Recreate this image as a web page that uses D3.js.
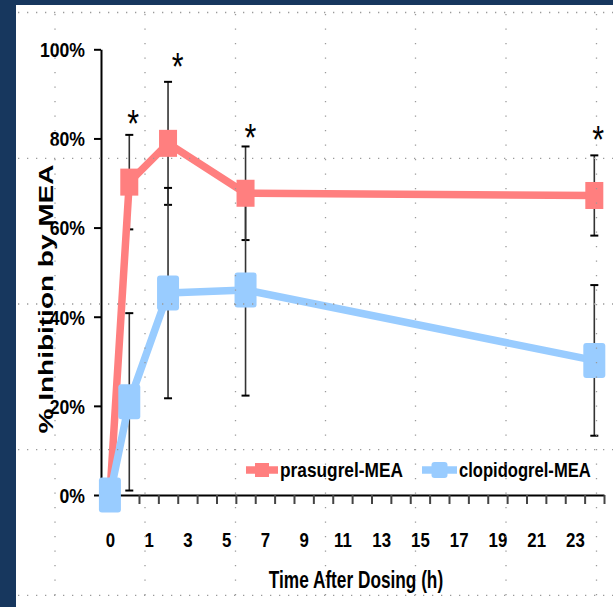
<!DOCTYPE html>
<html>
<head>
<meta charset="utf-8">
<script src="https://cdn.jsdelivr.net/npm/d3@7"></script>
<style>
  body { margin: 0; background: #17375e; }
  svg { display: block; }
  text { font-family: "Liberation Sans", Arial, sans-serif; font-weight: bold; fill: #000; }
</style>
</head>
<body>
<svg id="drawing_region"></svg>
<script>
// position of each sample on the time axis (the axis labels are offset as in the original)
const timePos = [-1, 0, 2, 6, 24];
const prasugrel = [0, 70.2, 78.9, 67.7, 67.2];
const prasugrelErr = [0, 10.6, 13.8, 10.5, 9.0];
const clopidogrel = [0, 20.9, 45.3, 46.0, 30.2];
const clopidogrelErr = [0, 19.9, 23.6, 23.7, 16.9];

const xLabelPos = [-1, 1, 3, 5, 7, 9, 11, 13, 15, 17, 19, 21, 23];
const xLabels = ["0", "1", "3", "5", "7", "9", "11", "13", "15", "17", "19", "21", "23"];
const xTickPos = d3.range(0.5, 24.6, 1);
const yTicks = [0, 20, 40, 60, 80, 100];

// significance marks
const starPos = [0.2, 2.5, 6.25, 24.2];
const starVal = [85.0, 98.0, 81.9, 81.5];

const seriesNames = ["prasugrel-MEA", "clopidogrel-MEA"];
const seriesColors = ["#ff7f7f", "#99ccff"];

const W = 613, H = 607;
const svg = d3.select('#drawing_region').attr('width', W).attr('height', H);

// white slide panel
svg.append('rect').attr('x', 16).attr('y', 5).attr('width', W - 16).attr('height', H - 5).attr('fill', '#fff');

const xscale = d3.scaleLinear().domain([-1.46, 24.5]).range([101, 604]);
const yscale = d3.scaleLinear().domain([0, 100]).range([495, 49.3]);

// y axis
const yaxis = d3.axisLeft(yscale)
    .tickValues(yTicks)
    .tickFormat(d => d + '%')
    .tickSize(7)
    .tickSizeOuter(0);
const yg = svg.append('g').attr('transform', `translate(101,0)`).call(yaxis);
yg.select('.domain').attr('stroke', '#000').attr('stroke-width', 2);
yg.selectAll('.tick line').attr('stroke', '#000').attr('stroke-width', 2);
yg.selectAll('.tick text')
    .attr('x', 0).attr('dy', '0.35em')
    .attr('transform', 'translate(-16,0) scale(0.84,1)')
    .style('font-size', '21px');

// x axis: tick marks
const xaxis = d3.axisBottom(xscale)
    .tickValues(xTickPos)
    .tickFormat('')
    .tickSize(9)
    .tickSizeOuter(0);
const xg = svg.append('g').attr('transform', `translate(0,495)`).call(xaxis);
xg.select('.domain').attr('stroke', '#000').attr('stroke-width', 2);
xg.selectAll('.tick line').attr('stroke', '#444').attr('stroke-width', 2);

// x axis: labels
const xlab = d3.axisBottom(xscale)
    .tickValues(xLabelPos)
    .tickFormat((d, i) => xLabels[i])
    .tickSize(0);
const xl = svg.append('g').attr('transform', `translate(0,495)`).call(xlab);
xl.select('.domain').remove();
xl.selectAll('.tick text')
    .attr('y', 0).attr('dy', '0.35em')
    .attr('transform', 'translate(0,45) scale(0.8,1)')
    .style('font-size', '21px');

svg.selectAll('.tick text').attr('fill', '#000').attr('font-family', null);

// titles
svg.append('text')
    .attr('transform', 'translate(356,580) scale(0.75,1)')
    .attr('text-anchor', 'middle').attr('dy', '0.35em')
    .style('font-size', '23px')
    .text('Time After Dosing (h)');

svg.append('text')
    .attr('transform', 'translate(45.5,299) scale(0.75,1) rotate(-90)')
    .attr('text-anchor', 'middle').attr('dy', '0.35em')
    .style('font-size', '28px')
    .text('% Inhibition by MEA');

const series = [
    { name: seriesNames[0], color: seriesColors[0], vals: prasugrel, err: prasugrelErr, mw: 18, mh: 27, r: 0 },
    { name: seriesNames[1], color: seriesColors[1], vals: clopidogrel, err: clopidogrelErr, mw: 22, mh: 35, r: 3 }
];

// error bars
series.forEach(s => {
    const g = svg.append('g');
    timePos.forEach((t, i) => {
        if (s.err[i] === 0) return;
        const x = xscale(t);
        const y1 = yscale(s.vals[i] + s.err[i]);
        const y0 = yscale(s.vals[i] - s.err[i]);
        g.append('line').attr('x1', x).attr('x2', x).attr('y1', y1).attr('y2', y0)
            .attr('stroke', '#333').attr('stroke-width', 1.6);
        [y0, y1].forEach(y => {
            g.append('line').attr('x1', x - 4).attr('x2', x + 4).attr('y1', y).attr('y2', y)
                .attr('stroke', '#000').attr('stroke-width', 2);
        });
    });
});

// lines and markers
const line = d3.line().x((d, i) => xscale(timePos[i])).y(d => yscale(d));
series.forEach(s => {
    svg.append('path').datum(s.vals)
        .attr('d', line)
        .attr('fill', 'none')
        .attr('stroke', s.color)
        .attr('stroke-width', 7.5)
        .attr('stroke-linejoin', 'round');
    svg.append('g').selectAll('rect')
        .data(s.vals)
        .enter()
        .append('rect')
        .attr('x', (d, i) => xscale(timePos[i]) - s.mw / 2)
        .attr('y', d => yscale(d) - s.mh / 2)
        .attr('width', s.mw)
        .attr('height', s.mh)
        .attr('rx', s.r)
        .attr('fill', s.color);
});

// asterisks
svg.append('g').selectAll('text')
    .data(starPos)
    .enter()
    .append('text')
    .attr('transform', (d, i) => `translate(${xscale(d)},${yscale(starVal[i])}) scale(0.8,1)`)
    .attr('text-anchor', 'middle')
    .attr('dy', '0.56em')
    .style('font-size', '38px')
    .style('font-weight', 'normal')
    .text('*');

// legend
const legX = [246, 422];
const legW = [32, 35];
const legQ = [0.865, 0.83];
series.forEach((s, i) => {
    const g = svg.append('g').attr('transform', `translate(${legX[i]},470)`);
    g.append('line').attr('x1', 0).attr('x2', legW[i]).attr('y1', 0).attr('y2', 0)
        .attr('stroke', s.color).attr('stroke-width', 7.5);
    const mw = i === 0 ? 14 : 16;
    g.append('rect').attr('x', legW[i] / 2 - mw / 2).attr('y', -mw / 2)
        .attr('width', mw).attr('height', mw).attr('rx', s.r).attr('fill', s.color);
    g.append('text')
        .attr('transform', `translate(${legW[i] + 2},0) scale(${legQ[i]},1)`)
        .attr('dy', '0.35em')
        .style('font-size', '20px')
        .text(s.name);
});

// slide grid overlay (dotted guides)
const gridY = [12.5, 158.3, 304, 449.7, 595.4];
const gridX = [55, 145, 235.5, 325.5, 415.5, 506, 596.5];
const grid = svg.append('g').attr('stroke', '#9a9a9a').attr('stroke-width', 1.3);
gridY.forEach(y => {
    grid.append('line').attr('x1', 18).attr('x2', W).attr('y1', y).attr('y2', y)
        .attr('stroke-dasharray', '1.3,7.7');
});
gridX.forEach(x => {
    grid.append('line').attr('x1', x).attr('x2', x).attr('y1', 14).attr('y2', H)
        .attr('stroke-dasharray', '1.3,13.2');
});
</script>
</body>
</html>
